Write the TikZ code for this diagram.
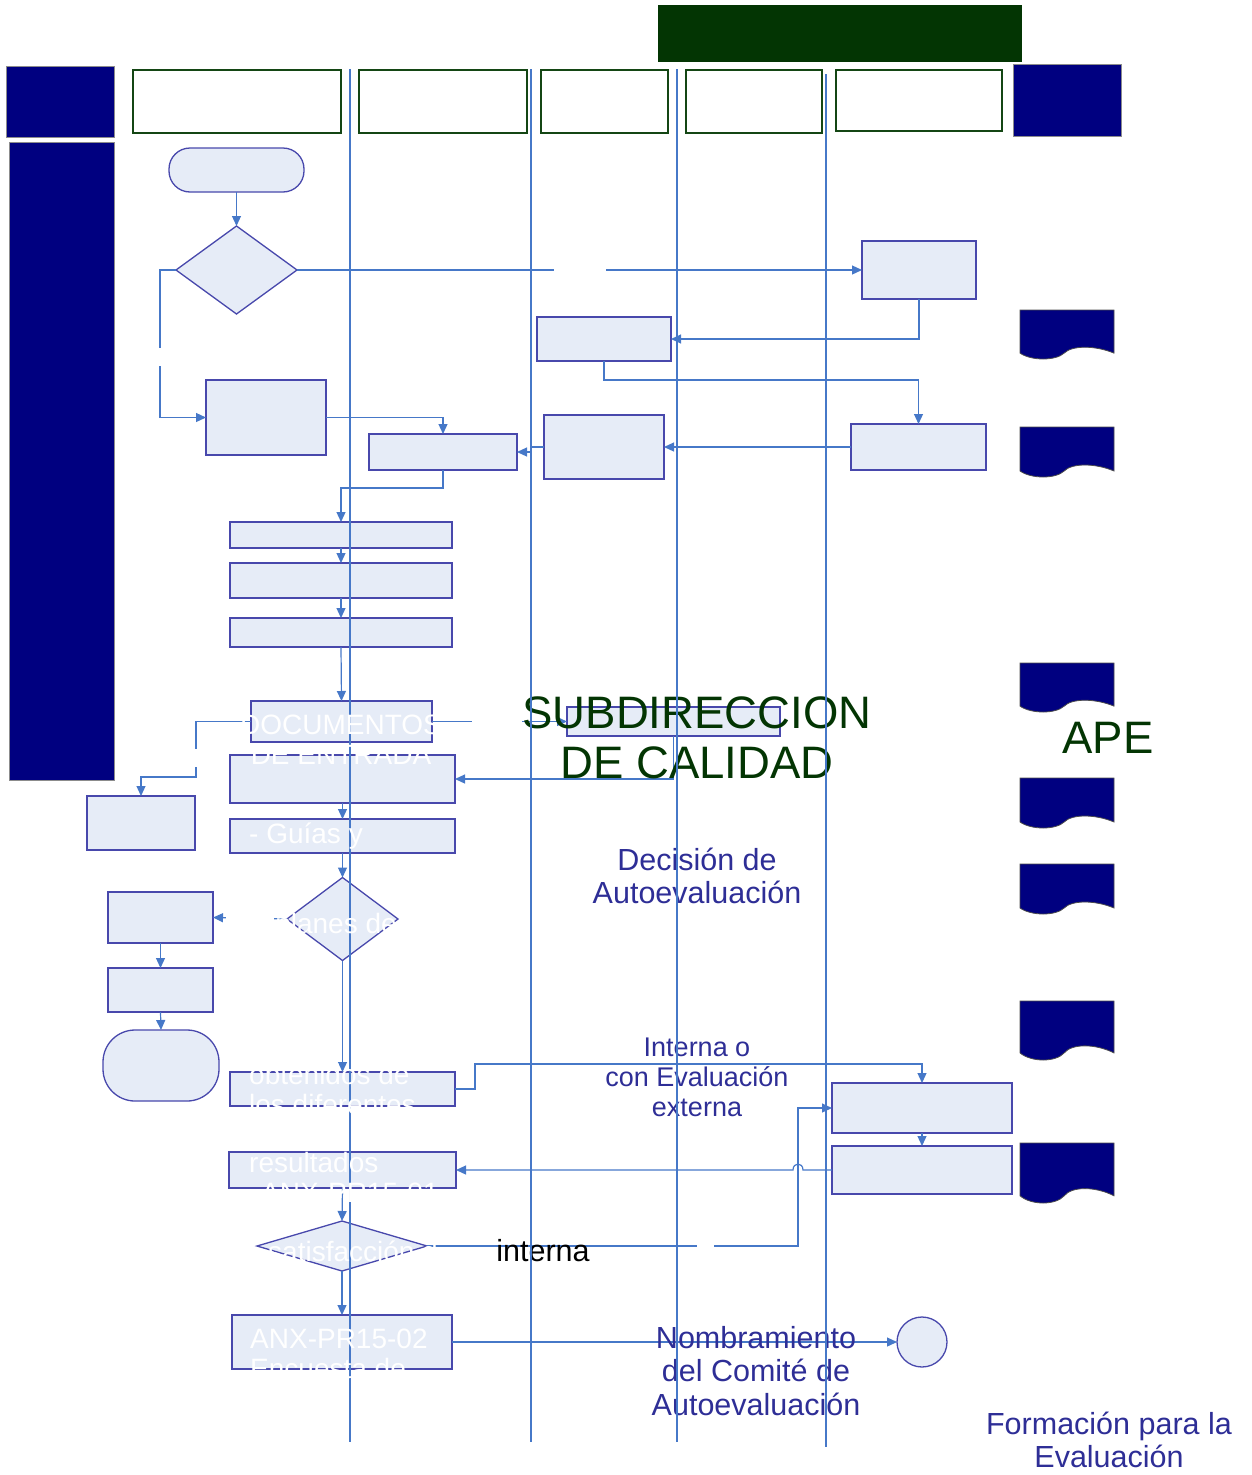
\documentclass[tikz,border=0pt]{standalone}
\usepackage{fontspec}
\setmainfont{Liberation Sans}
\usetikzlibrary{positioning,shapes.geometric,arrows.meta}

\definecolor{navyblk}{RGB}{0,0,128}
\definecolor{dkgreen}{RGB}{3,53,3}
\definecolor{hdrgreen}{RGB}{20,70,20}
\definecolor{boxfill}{RGB}{230,236,247}
\definecolor{boxline}{RGB}{72,72,172}
\definecolor{flowblue}{RGB}{70,120,200}
\definecolor{txtblue}{RGB}{46,46,150}

\newcommand{\docshape}[3]{%
\filldraw[docmark] (#1,#2) -- (#1+94,#2) -- (#1+94,#2+0.88*#3)
 .. controls (#1+75.2,#2+0.72*#3) and (#1+51.7,#2+0.72*#3) .. (#1+44.2,#2+0.88*#3)
 .. controls (#1+35.7,#2+1.04*#3) and (#1+11.3,#2+1.04*#3) .. (#1,#2+0.88*#3) -- cycle;}

\begin{document}
\begin{tikzpicture}[x=1pt,y=-1pt,
  box/.style={draw=boxline,fill=boxfill,line width=1.3pt,inner sep=0pt,outer sep=0pt},
  term/.style={box,rounded corners=#1},
  dec/.style={box,diamond},
  flow/.style={draw=flowblue,line width=1.2pt,-{Triangle[length=10pt,width=9pt]}},
  lane/.style={draw=flowblue,line width=1.1pt},
  linecut/.style={fill=white,inner sep=0pt,minimum width=#1,minimum height=8pt},
  vcut/.style={fill=white,inner sep=0pt,minimum width=8pt,minimum height=#1},
  hdr/.style={draw=hdrgreen,line width=1.6pt,fill=white},
  navyblock/.style={fill=navyblk,draw=black!45,line width=0.8pt},
  docmark/.style={fill=navyblk,draw=black!70,line width=0.8pt},
  whitetxt/.style={text=white,inner sep=0pt,font=\fontsize{28}{30}\selectfont},
  lbl/.style={inner sep=0pt,align=center}]

\useasboundingbox (0,0) rectangle (1252,1475);

% header
\fill[dkgreen] (658,5) rectangle (1022,62);
\filldraw[navyblock] (6,66) rectangle (114,137);
\filldraw[navyblock] (1013,64) rectangle (1121,136);
\filldraw[navyblock] (9,142) rectangle (114,780);
\draw[hdr] (133,70) rectangle (341,133);
\draw[hdr] (359,70) rectangle (527,133);
\draw[hdr] (541,70) rectangle (668,133);
\draw[hdr] (686,70) rectangle (822,133);
\draw[hdr] (836,70) rectangle (1002,131);

% documents
\docshape{1020}{310}{49}
\docshape{1020}{427}{50}
\docshape{1020}{663}{49}
\docshape{1020}{778}{50}
\docshape{1020}{864}{50}
\docshape{1020}{1001}{59}
\docshape{1020}{1143}{60}

% boxes
\node[term=21pt,minimum width=135pt,minimum height=44pt] (start) at (236.5,170) {};
\node[dec,minimum width=121pt,minimum height=88pt] (dec1) at (236.5,270) {};
\node[box,minimum width=114pt,minimum height=58pt] (boxA) at (919,270) {};
\node[box,minimum width=134pt,minimum height=44pt] (boxB) at (604,339) {};
\node[box,minimum width=135pt,minimum height=46pt] (boxC) at (918.5,447) {};
\node[box,minimum width=120pt,minimum height=64pt] (boxD) at (604,447) {};
\node[box,minimum width=148pt,minimum height=36pt] (boxE) at (443,452) {};
\node[box,minimum width=120pt,minimum height=75pt] (boxF) at (266,417.5) {};
\node[box,minimum width=222pt,minimum height=26pt] (boxG) at (341,535) {};
\node[box,minimum width=222pt,minimum height=35pt] (boxH) at (341,580.5) {};
\node[box,minimum width=222pt,minimum height=29pt] (boxI) at (341,632.5) {};
\node[box,minimum width=181pt,minimum height=41pt] (boxJ) at (341.5,721.5) {};
\node[box,minimum width=108pt,minimum height=54pt] (boxK) at (141,823) {};
\node[box,minimum width=213pt,minimum height=29pt] (boxL) at (673.5,721.5) {};
\node[box,minimum width=225pt,minimum height=48pt] (boxM) at (342.5,779) {};
\node[box,minimum width=225pt,minimum height=34pt] (boxN) at (342.5,836) {};
\node[dec,minimum width=111pt,minimum height=83pt] (dec2) at (342.5,919) {};
\node[box,minimum width=105pt,minimum height=51pt] (boxO) at (160.5,917.5) {};
\node[box,minimum width=105pt,minimum height=44pt] (boxP) at (160.5,990) {};
\node[term=32pt,minimum width=116pt,minimum height=71pt] (termQ) at (161,1065.5) {};
\node[box,minimum width=225pt,minimum height=34pt] (boxR) at (342.5,1089) {};
\node[box,minimum width=180pt,minimum height=50pt] (boxS) at (922,1108) {};
\node[box,minimum width=180pt,minimum height=48pt] (boxT) at (922,1170) {};
\node[box,minimum width=227pt,minimum height=36pt] (boxU) at (342.5,1170) {};
\node[dec,minimum width=170pt,minimum height=50pt] (dec3) at (342,1246) {};
\node[box,minimum width=220pt,minimum height=54pt] (boxV) at (342,1342) {};
\node[box,circle,minimum size=50pt] (endc) at (922,1342) {};

% connectors
\draw[flow] (start.south) -- (dec1.north);
\draw[flow] (dec1.east) -- node[linecut=52pt]{} (boxA.west);
\draw[flow] (dec1.west) -- (160,270) -- node[vcut=18pt,pos=0.59]{} (160,417.5) -- (boxF.west);
\draw[flow] (boxA.south) |- (boxB.east);
\draw[flow] (boxB.south) -- (604,380) -| (boxC.north);
\draw[flow] (boxC.west) -- (boxD.east);
\draw[flow] (boxD.west) -- (531,447) |- (boxE.east);
\draw[flow] (boxF.east) -| (boxE.north);
\draw[flow] (boxE.south) -- (443,488) -| (boxG.north);
\draw[flow] (boxG.south) -- (boxH.north);
\draw[flow] (boxH.south) -- (boxI.north);
\draw[flow] (boxI.south) -- (boxJ.north);
\draw[flow] (boxJ.west) -- (196,721.5) -- node[vcut=18pt,pos=0.65]{} (196,777) -| (boxK.north);
\draw[flow] (boxJ.east) -- node[linecut=50pt,pos=0.48]{} (boxL.west);
\draw[flow] (boxL.south) |- (boxM.east);
\draw[flow] (boxM.south) -- (boxN.north);
\draw[flow] (boxN.south) -- (dec2.north);
\draw[flow] (dec2.west) -- node[linecut=48pt]{} (boxO.east);
\draw[flow] (boxO.south) -- (boxP.north);
\draw[flow] (boxP.south) -- (termQ.north);
\draw[flow] (dec2.south) -- (boxR.north);
\draw[flow] (boxR.east) -- (475,1089) -- (475,1064) -| (boxS.north);
\draw[flow] (boxS.south) -- (boxT.north);
\draw[flow] (boxT.west) -- (803,1170) .. controls (803,1162) and (793,1162) .. (793,1170) -- (boxU.east);
\draw[flow] (dec3.east) -- node[linecut=17pt,pos=0.75]{} (798,1246) |- (boxS.west);
\draw[flow] (boxU.south) -- (dec3.north);
\draw[flow] (dec3.south) -- (boxV.north);
\draw[flow] (boxV.east) -- (endc.west);

% labels
\node[lbl,text=dkgreen,font=\fontsize{45.5}{50}\selectfont] (subdir) at (697,738) {SUBDIRECCION\\DE CALIDAD};
\node[lbl,text=dkgreen,font=\fontsize{45.5}{50}\selectfont] (apelbl) at (1108,738) {APE};
\node[lbl,text=txtblue,font=\fontsize{30.5}{33}\selectfont] (decision) at (697,876) {Decisión de\\Autoevaluación};
\node[lbl,text=txtblue,font=\fontsize{27}{30}\selectfont] (tipoeval) at (697,1077) {Interna o\\con Evaluación\\externa};
\node[lbl,font=\fontsize{30.5}{33}\selectfont] (internalbl) at (543,1251) {interna};
\node[lbl,text=txtblue,font=\fontsize{30.5}{33.5}\selectfont] (nombramiento) at (756,1371) {Nombramiento\\del Comité de\\Autoevaluación};
\node[lbl,text=txtblue,font=\fontsize{30.5}{33}\selectfont] (formacion) at (1109,1440) {Formación para la\\Evaluación};

% lanes
\foreach \lx/\ly/\le in {350/69/1442, 531/69/1442, 677/69/1442, 826/74/1447}
  \draw[lane] (\lx,\ly) -- (\lx,\le);

% white texts
\node[whitetxt,align=center] (wdocs) at (341,740) {DOCUMENTOS\\DE ENTRADA};
\node[whitetxt,anchor=west] (wguias) at (249,836) {- Guías y};
\node[whitetxt] (wplanes) at (336,926) {planes de};
\node[whitetxt,anchor=west,align=left] (wobtenidos) at (249,1089) {obtenidos de\\los diferentes};
\node[whitetxt,anchor=west,align=left] (wresultados) at (249,1177) {resultados\\\hspace*{12pt}ANX-PR15-01};
\node[whitetxt,anchor=west] (wsatisf) at (268,1251) {satisfacción d};
\node[whitetxt,anchor=west,align=left] (wanx) at (250,1354) {ANX-PR15-02\\Encuesta de};

\end{tikzpicture}
\end{document}
